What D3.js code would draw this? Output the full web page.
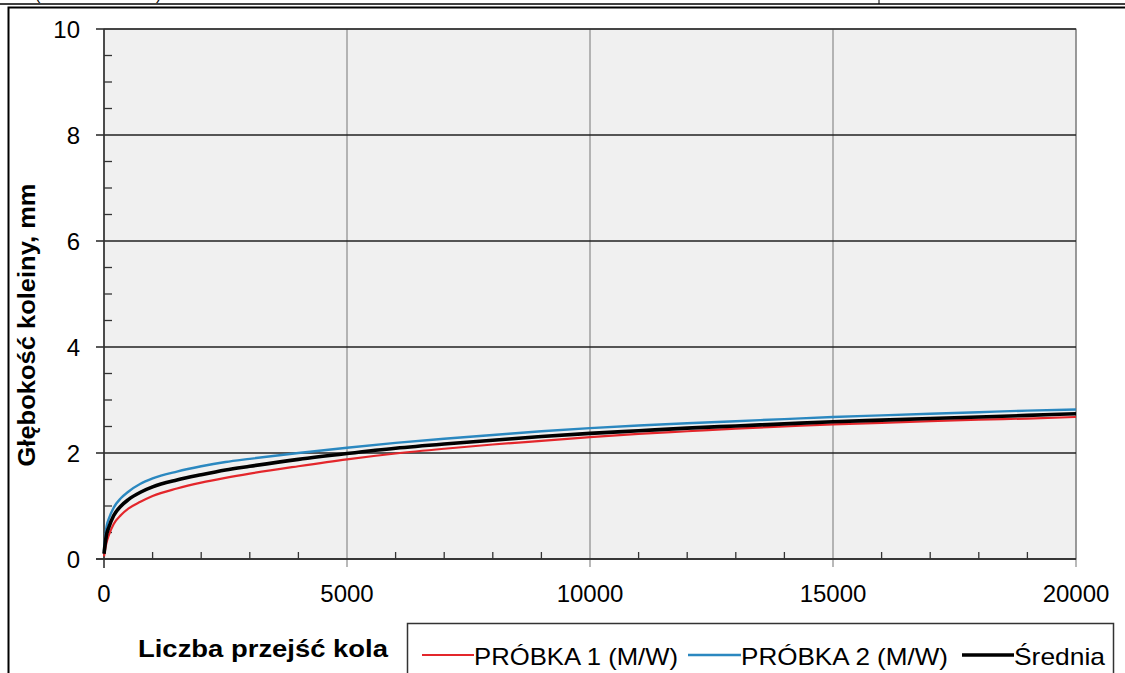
<!DOCTYPE html>
<html>
<head>
<meta charset="utf-8">
<script src="https://cdn.jsdelivr.net/npm/d3@7"></script>
<style>
  body { margin: 0; background: #fff; }
  svg { display: block; font-family: Arial, "Liberation Sans", sans-serif; }
</style>
</head>
<body>
<svg id="canvas" width="1125" height="673"></svg>
<script>
// number of wheel passes
let passes = [0, 50, 100, 200, 350, 500, 750, 1000, 1500, 2000, 2500, 3000, 4000, 5000, 6000, 7000,
    8000, 9000, 10000, 11000, 12000, 13000, 14000, 15000, 16000, 17000, 18000, 19000, 20000];

// rut depth, mm
let sample1 = [0.05, 0.3, 0.45, 0.66, 0.83, 0.95, 1.08, 1.19, 1.33, 1.44, 1.53, 1.61, 1.75, 1.88, 1.99, 2.08,
    2.16, 2.23, 2.3, 2.36, 2.41, 2.46, 2.5, 2.54, 2.57, 2.6, 2.63, 2.65, 2.68];
let sample2 = [0.15, 0.6, 0.76, 0.97, 1.15, 1.27, 1.42, 1.52, 1.65, 1.75, 1.83, 1.89, 2.0, 2.1, 2.19, 2.27,
    2.34, 2.41, 2.47, 2.52, 2.56, 2.6, 2.64, 2.68, 2.71, 2.74, 2.77, 2.8, 2.82];
let average = [0.1, 0.45, 0.6, 0.82, 1.0, 1.12, 1.26, 1.36, 1.49, 1.59, 1.68, 1.75, 1.88, 1.99, 2.09, 2.17,
    2.24, 2.31, 2.37, 2.42, 2.47, 2.51, 2.55, 2.59, 2.62, 2.65, 2.68, 2.71, 2.74];

let seriesNames = ["PRÓBKA 1 (M/W)", "PRÓBKA 2 (M/W)", "Średnia"];
let xTicks = [0, 5000, 10000, 15000, 20000];
let yTicks = [0, 2, 4, 6, 8, 10];

let canvas = d3.select("#canvas");

let xScale = d3.scaleLinear().domain([0, 20000]).range([104, 1076]);
let yScale = d3.scaleLinear().domain([0, 10]).range([559, 29]);

// page decoration: bits of the table above and the frame
canvas.append('text')
    .attr('x', 35).attr('y', 0)
    .attr('font-size', 16)
    .text('(wartości średnie).');
canvas.append('line')
    .attr('x1', 0).attr('x2', 1125).attr('y1', 4).attr('y2', 4)
    .attr('stroke', '#000').attr('stroke-width', 1.6);
canvas.append('line')
    .attr('x1', 879).attr('x2', 879).attr('y1', 0).attr('y2', 4)
    .attr('stroke', '#000');
canvas.append('rect')
    .attr('x', 8.5).attr('y', 7.5).attr('width', 1200).attr('height', 700)
    .attr('fill', 'none').attr('stroke', '#000').attr('stroke-width', 2);

// plot area
canvas.append('rect')
    .attr('x', xScale(0)).attr('y', yScale(10))
    .attr('width', xScale(20000) - xScale(0))
    .attr('height', yScale(0) - yScale(10))
    .attr('fill', '#f0f0f0')
    .attr('stroke', '#666').attr('stroke-width', 1);

// vertical grid
canvas.selectAll('.vgrid')
    .data(xTicks.slice(1))
    .enter()
    .append('line')
    .attr('class', 'vgrid')
    .attr('x1', (d) => xScale(d)).attr('x2', (d) => xScale(d))
    .attr('y1', yScale(10)).attr('y2', yScale(0) + 8)
    .attr('stroke', '#8a8a8a').attr('stroke-width', 1.2);

// horizontal grid
canvas.selectAll('.hgrid')
    .data(yTicks)
    .enter()
    .append('line')
    .attr('class', 'hgrid')
    .attr('x1', xScale(0) - 8).attr('x2', xScale(20000))
    .attr('y1', (d) => yScale(d)).attr('y2', (d) => yScale(d))
    .attr('stroke', '#222').attr('stroke-width', 1.3);

// minor ticks
let yMinor = d3.range(0, 10.01, 0.5).filter((v) => v % 2 !== 0);
canvas.selectAll('.yminor')
    .data(yMinor)
    .enter()
    .append('line')
    .attr('x1', xScale(0)).attr('x2', xScale(0) + 8)
    .attr('y1', (d) => yScale(d)).attr('y2', (d) => yScale(d))
    .attr('stroke', '#333').attr('stroke-width', 1.3);

let xMinor = d3.range(1000, 20000, 1000).filter((v) => v % 5000 !== 0);
canvas.selectAll('.xminor')
    .data(xMinor)
    .enter()
    .append('line')
    .attr('x1', (d) => xScale(d)).attr('x2', (d) => xScale(d))
    .attr('y1', yScale(0)).attr('y2', yScale(0) - 7)
    .attr('stroke', '#333').attr('stroke-width', 1.3);

// axis lines
canvas.append('line')
    .attr('x1', xScale(0)).attr('x2', xScale(0))
    .attr('y1', yScale(10)).attr('y2', yScale(0) + 9)
    .attr('stroke', '#333').attr('stroke-width', 1.6);
canvas.append('line')
    .attr('x1', xScale(0) - 8).attr('x2', xScale(20000))
    .attr('y1', yScale(0)).attr('y2', yScale(0))
    .attr('stroke', '#333').attr('stroke-width', 1.6);

// tick labels
canvas.selectAll('.ylab')
    .data(yTicks)
    .enter()
    .append('text')
    .attr('x', 80).attr('y', (d) => yScale(d))
    .attr('dy', '0.36em')
    .attr('text-anchor', 'end')
    .attr('font-size', 24)
    .text((d) => d);

canvas.selectAll('.xlab')
    .data(xTicks)
    .enter()
    .append('text')
    .attr('x', (d) => xScale(d)).attr('y', 602)
    .attr('text-anchor', 'middle')
    .attr('font-size', 24)
    .text((d) => d);

// axis titles
canvas.append('text')
    .attr('transform', 'translate(35, 325) rotate(-90)')
    .attr('text-anchor', 'middle')
    .attr('font-size', 24).attr('font-weight', 'bold')
    .attr('textLength', 283).attr('lengthAdjust', 'spacingAndGlyphs')
    .text('Głębokość koleiny, mm');

canvas.append('text')
    .attr('x', 138).attr('y', 657)
    .attr('font-size', 24).attr('font-weight', 'bold')
    .attr('textLength', 250).attr('lengthAdjust', 'spacingAndGlyphs')
    .text('Liczba przejść kola');

// series
let seriesData = [sample1, sample2, average];
let colors = ['#e3262b', '#2b88c0', '#000'];
let widths = [2.2, 2.4, 3.6];

let line = d3.line()
    .x((d) => xScale(d[0]))
    .y((d) => yScale(d[1]))
    .curve(d3.curveMonotoneX);

seriesData.forEach((values, i) => {
    canvas.append('path')
        .datum(passes.map((p, j) => [p, values[j]]))
        .attr('d', line)
        .attr('fill', 'none')
        .attr('stroke', colors[i])
        .attr('stroke-width', widths[i])
        .attr('stroke-linejoin', 'round');
});

// legend
canvas.append('rect')
    .attr('x', 407.5).attr('y', 623.5).attr('width', 706).attr('height', 80)
    .attr('fill', '#fff').attr('stroke', '#333').attr('stroke-width', 1.5);

let legendItems = [
    { lineX: 422, textX: 474, textW: 204 },
    { lineX: 688, textX: 741, textW: 207 },
    { lineX: 962, textX: 1014, textW: 91 }
];

legendItems.forEach((item, i) => {
    canvas.append('line')
        .attr('x1', item.lineX).attr('x2', item.textX)
        .attr('y1', 655).attr('y2', 655)
        .attr('stroke', colors[i]).attr('stroke-width', widths[i]);
    canvas.append('text')
        .attr('x', item.textX).attr('y', 665)
        .attr('font-size', 24)
        .attr('textLength', item.textW)
        .attr('lengthAdjust', 'spacingAndGlyphs')
        .text(seriesNames[i]);
});
</script>
</body>
</html>
